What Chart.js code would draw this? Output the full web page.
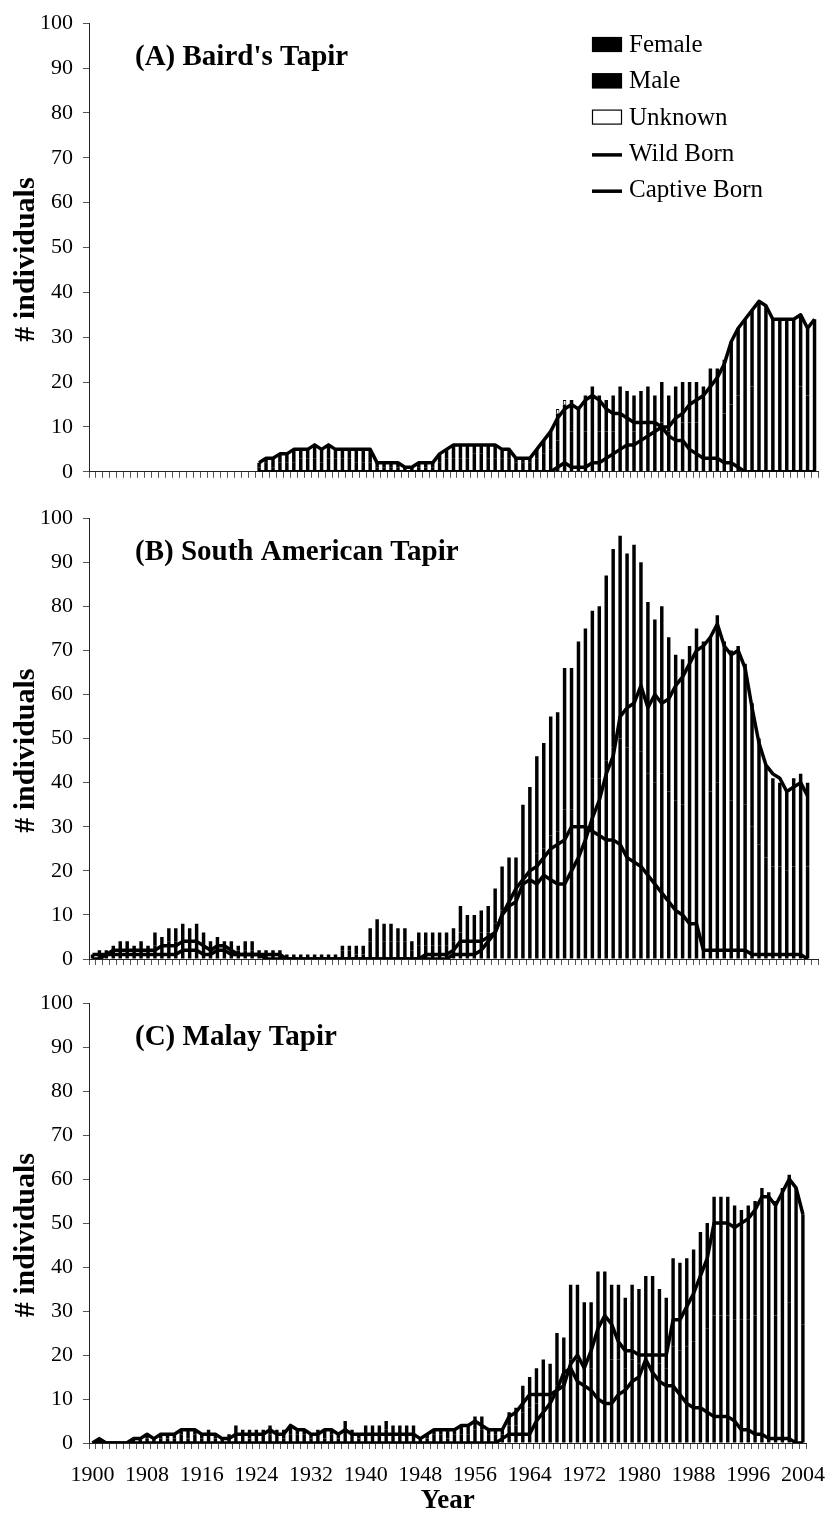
<!DOCTYPE html>
<html>
<head>
<meta charset="utf-8">
<script src="https://cdn.jsdelivr.net/npm/chart.js@4.4.1/dist/chart.umd.min.js"></script>
<style>
  html, body { margin: 0; padding: 0; background: #fff; }
  #wrap { position: relative; width: 838px; height: 1516px; background: #fff; }
  canvas { position: absolute; left: 0; }
</style>
</head>
<body>
<div id="wrap">
  <canvas id="chartA" width="838" height="495" style="top:0px"></canvas>
  <canvas id="chartB" width="838" height="490" style="top:495px"></canvas>
  <canvas id="chartC" width="838" height="536" style="top:980px"></canvas>
</div>
<script>
"use strict";

// categories: one per year
const years = [
  '1900','1901','1902','1903','1904','1905','1906','1907','1908','1909',
  '1910','1911','1912','1913','1914','1915','1916','1917','1918','1919',
  '1920','1921','1922','1923','1924','1925','1926','1927','1928','1929',
  '1930','1931','1932','1933','1934','1935','1936','1937','1938','1939',
  '1940','1941','1942','1943','1944','1945','1946','1947','1948','1949',
  '1950','1951','1952','1953','1954','1955','1956','1957','1958','1959',
  '1960','1961','1962','1963','1964','1965','1966','1967','1968','1969',
  '1970','1971','1972','1973','1974','1975','1976','1977','1978','1979',
  '1980','1981','1982','1983','1984','1985','1986','1987','1988','1989',
  '1990','1991','1992','1993','1994','1995','1996','1997','1998','1999',
  '2000','2001','2002','2003','2004'
];
const xTickLabels = ['1900','1908','1916','1924','1932','1940','1948','1956','1964','1972','1980','1988','1996','2004'];
const legendLabels = ['Female', 'Male', 'Unknown', 'Wild Born', 'Captive Born'];
const panelTitles = ["(A) Baird's Tapir", '(B) South American Tapir', '(C) Malay Tapir'];

const N = null;

// (A) Baird's Tapir
const femaleA = [
  N,N,N,N,N,N,N,N,N,N,
  N,N,N,N,N,N,N,N,N,N,
  N,N,N,N,1,2,1,2,2,2,
  3,3,3,2,3,3,3,3,2,2,
  2,1,1,1,1,1,1,1,1,1,
  2,3,3,3,3,4,4,3,3,3,
  3,2,2,2,3,4,5,7,8,9,
  8,9,10,9,9,9,10,10,9,10,
  10,9,11,9,10,11,11,11,10,12,
  12,13,15,17,18,19,20,20,18,18,
  18,18,19,17,18
];
const maleA = [
  N,N,N,N,N,N,N,N,N,N,
  N,N,N,N,N,N,N,N,N,N,
  N,N,N,N,1,1,2,2,2,3,
  2,2,3,3,3,2,2,2,3,3,
  3,1,1,1,1,0,0,1,1,1,
  2,2,3,3,3,2,2,3,3,2,
  2,1,1,1,2,3,4,6,7,7,
  6,8,9,8,7,8,9,8,8,8,
  9,8,9,8,9,9,9,9,9,11,
  11,12,14,15,16,17,18,17,16,16,
  16,16,16,15,16
];
const unknownA = [
  N,N,N,N,N,N,N,N,N,N,
  N,N,N,N,N,N,N,N,N,N,
  N,N,N,N,N,N,N,N,N,N,
  N,N,N,N,N,N,N,N,N,N,
  N,N,N,N,N,N,N,N,N,N,
  N,N,N,N,N,N,N,N,N,N,
  N,N,N,N,N,N,N,1,1,N,
  N,N,N,N,N,N,N,N,N,N,
  N,N,N,N,N,N,N,N,N,N,
  N,N,N,N,N,N,N,N,N,N,
  N,N,N,N,N
];
const wildA = [
  N,N,N,N,N,N,N,N,N,N,
  N,N,N,N,N,N,N,N,N,N,
  N,N,N,N,2,3,3,4,4,5,
  5,5,6,5,6,5,5,5,5,5,
  5,2,2,2,2,1,1,2,2,2,
  4,5,6,6,6,6,6,6,6,5,
  5,3,3,3,5,7,9,12,14,15,
  14,16,17,16,14,13,13,12,11,11,
  11,11,10,8,7,7,5,4,3,3,
  3,2,2,1,0,0,0,0,0,0,
  0,0,0,0,0
];
const captiveA = [
  N,N,N,N,N,N,N,N,N,N,
  N,N,N,N,N,N,N,N,N,N,
  N,N,N,N,0,0,0,0,0,0,
  0,0,0,0,0,0,0,0,0,0,
  0,0,0,0,0,0,0,0,0,0,
  0,0,0,0,0,0,0,0,0,0,
  0,0,0,0,0,0,0,1,2,1,
  1,1,2,2,3,4,5,6,6,7,
  8,9,10,10,12,13,15,16,17,19,
  21,24,29,32,34,36,38,37,34,34,
  34,34,35,32,34
];

// (B) South American Tapir
const femaleB = [
  1,1,1,2,2,2,1,2,2,3,
  3,4,4,4,4,4,3,2,3,2,
  2,2,2,2,1,1,1,1,1,1,
  0,0,1,1,1,1,2,2,1,1,
  4,5,4,4,4,4,2,3,3,3,
  3,3,4,6,5,5,6,6,8,11,
  12,12,18,20,24,25,28,29,34,34,
  37,39,41,41,45,48,50,48,49,47,
  42,40,42,38,36,35,37,39,37,38,
  40,37,36,37,35,30,26,23,21,21,
  20,21,22,21,N
];
const maleB = [
  0,1,1,1,2,2,2,2,1,3,
  2,3,3,4,3,4,3,2,2,2,
  2,1,2,2,1,1,1,1,0,0,
  1,1,0,0,0,0,1,1,2,2,
  3,4,4,4,3,3,2,3,3,3,
  3,3,3,6,5,5,5,6,8,10,
  11,11,17,19,22,24,27,27,32,32,
  35,36,38,39,42,45,46,44,45,43,
  39,37,38,35,33,33,34,36,35,35,
  38,35,34,34,32,28,24,21,20,19,
  18,20,20,19,N
];
const unknownB = [
  N,N,N,N,N,N,N,N,N,N,
  N,N,N,N,N,N,N,N,N,N,
  N,N,N,N,N,N,N,N,N,N,
  N,N,N,N,N,N,N,N,N,N,
  N,N,N,N,N,N,N,N,N,N,
  N,N,N,N,N,N,N,N,N,N,
  N,N,N,N,N,N,N,N,N,N,
  N,N,N,N,N,N,N,N,N,N,
  N,N,N,N,N,N,N,N,N,N,
  N,N,N,N,N,N,N,N,N,N,
  N,N,N,N,N
];
const wildB = [
  1,1,1,2,2,2,2,2,2,2,
  3,3,3,4,4,4,3,2,3,3,
  2,1,1,1,1,1,1,1,0,0,
  0,0,0,0,0,0,0,0,0,0,
  0,0,0,0,0,0,0,0,1,1,
  1,1,2,4,4,4,4,5,6,10,
  13,16,18,20,21,23,25,26,27,30,
  30,30,29,28,27,27,26,23,22,21,
  19,17,15,13,11,10,8,8,2,2,
  2,2,2,2,2,1,1,1,1,1,
  1,1,1,0,N
];
const captiveB = [
  0,0,1,1,1,1,1,1,1,1,
  1,1,1,2,2,2,1,1,2,2,
  1,1,1,1,1,0,0,0,0,0,
  0,0,0,0,0,0,0,0,0,0,
  0,0,0,0,0,0,0,0,0,0,
  0,0,1,1,1,1,2,4,6,10,
  12,13,17,18,17,19,18,17,17,20,
  23,27,32,36,42,46,55,57,58,62,
  57,60,58,59,62,64,67,70,71,73,
  76,71,69,70,66,57,49,44,42,41,
  38,39,40,37,N
];

// (C) Malay Tapir
const femaleC = [
  0,1,0,0,0,0,1,0,1,1,
  1,1,1,2,1,2,1,2,1,1,
  1,2,2,1,2,2,2,2,1,2,
  2,2,1,2,1,2,1,3,2,1,
  2,2,2,3,2,2,2,2,1,1,
  2,2,1,2,2,2,3,3,2,2,
  2,4,4,7,8,9,10,10,13,13,
  19,19,17,17,20,20,19,19,17,19,
  18,20,20,18,17,22,21,22,23,25,
  26,29,29,29,28,28,28,29,30,30,
  29,30,32,30,27
];
const maleC = [
  0,0,0,0,0,0,0,1,1,0,
  1,1,1,1,2,1,1,1,1,0,
  1,2,1,2,1,1,2,1,2,2,
  1,1,1,1,2,1,1,2,1,1,
  2,2,2,2,2,2,2,2,0,1,
  1,1,2,1,2,2,3,3,1,1,
  1,3,4,6,7,8,9,8,12,11,
  17,17,15,15,19,19,17,17,16,17,
  17,18,18,17,16,20,20,20,21,23,
  24,27,27,27,26,25,26,26,28,27,
  26,28,29,28,25
];
const unknownC = [
  N,N,N,N,N,N,N,N,N,N,
  N,N,N,N,N,N,N,N,N,N,
  N,N,N,N,N,N,N,N,N,N,
  N,N,N,N,N,N,N,N,N,N,
  N,N,N,N,N,N,N,N,N,N,
  N,N,N,N,N,N,N,N,N,N,
  N,N,N,N,N,N,N,N,N,N,
  N,N,N,N,N,N,N,N,N,N,
  N,N,N,N,N,N,N,N,N,N,
  N,N,N,N,N,N,N,N,N,N,
  N,N,N,N,N
];
const wildC = [
  0,1,0,0,0,0,1,1,2,1,
  2,2,2,3,3,3,2,2,2,1,
  1,2,2,2,2,2,3,2,2,4,
  3,3,2,2,3,3,2,3,2,2,
  2,2,2,2,2,2,2,2,1,2,
  3,3,3,3,4,4,5,4,3,3,
  3,6,7,9,11,11,11,11,12,16,
  17,14,13,12,10,9,9,11,12,14,
  15,19,16,14,13,13,11,9,8,8,
  7,6,6,6,5,3,3,2,2,1,
  1,1,1,0,0
];
const captiveC = [
  0,0,0,0,0,0,0,0,0,0,
  0,0,0,0,0,0,0,0,0,0,
  0,0,0,0,0,0,0,0,0,0,
  0,0,0,0,0,0,0,0,0,0,
  0,0,0,0,0,0,0,0,0,0,
  0,0,0,0,0,0,0,0,0,0,
  1,2,2,2,2,5,7,9,12,13,
  18,20,17,21,26,29,27,23,21,21,
  20,20,20,20,20,28,28,31,34,38,
  42,50,50,50,49,50,51,53,56,56,
  54,57,60,58,52
];

Chart.defaults.font.family = "'Liberation Serif', 'Times New Roman', serif";
Chart.defaults.color = '#000';

// titles, axis labels and the legend written onto the canvas
const panelText = {
  id: 'panelText',
  afterDraw(chart, args, opts) {
    const ctx = chart.ctx;
    const a = chart.chartArea;
    ctx.save();
    ctx.fillStyle = '#000';
    ctx.font = "bold 29px 'Liberation Serif', serif";
    ctx.textAlign = 'left';
    ctx.textBaseline = 'alphabetic';
    ctx.fillText(opts.title, a.left + 46, a.top + 42);

    ctx.save();
    ctx.translate(26, (a.top + a.bottom) / 2 + 12);
    ctx.rotate(-Math.PI / 2);
    ctx.textAlign = 'center';
    ctx.textBaseline = 'middle';
    ctx.font = "bold 30px 'Liberation Serif', serif";
    ctx.fillText('# individuals', 0, 0);
    ctx.restore();

    if (opts.xTitle) {
      ctx.textAlign = 'center';
      ctx.font = "bold 27px 'Liberation Serif', serif";
      ctx.fillText('Year', (a.left + a.right) / 2, 528);
    }

    if (opts.legend) {
      const ds = chart.data.datasets;
      ctx.font = "25px 'Liberation Serif', serif";
      ctx.textAlign = 'left';
      for (let i = 0; i < ds.length; i++) {
        const y = 44 + i * 36.3;
        if (ds[i].type === 'line') {
          ctx.strokeStyle = '#000';
          ctx.lineWidth = 3.5;
          ctx.beginPath();
          ctx.moveTo(592, y + 2);
          ctx.lineTo(622, y + 2);
          ctx.stroke();
        } else {
          ctx.fillStyle = ds[i].backgroundColor;
          ctx.fillRect(592, y - 7, 30, 15);
          ctx.strokeStyle = '#000';
          ctx.lineWidth = 1.2;
          ctx.strokeRect(592.5, y - 6.5, 29, 14);
        }
        ctx.fillStyle = '#000';
        ctx.fillText(ds[i].label, 629, y + 8);
      }
    }
    ctx.restore();
  }
};

function makePanel(id, female, male, unknown, wild, captive, title, xHeight, showX, legend) {
  const barBase = { type: 'bar', stack: 'sex', order: 1, barPercentage: 0.5, categoryPercentage: 1.0 };
  const lineBase = { type: 'line', order: 0, borderColor: '#000', borderWidth: 3.5,
    pointRadius: 0, tension: 0, fill: false, spanGaps: false, borderJoinStyle: 'round' };
  return new Chart(document.getElementById(id), {
    data: {
      labels: years,
      datasets: [
        Object.assign({}, barBase, { label: legendLabels[0], data: female, backgroundColor: '#000' }),
        Object.assign({}, barBase, { label: legendLabels[1], data: male, backgroundColor: '#000' }),
        Object.assign({}, barBase, { label: legendLabels[2], data: unknown, backgroundColor: '#fff',
          borderColor: '#000', borderWidth: 1 }),
        Object.assign({}, lineBase, { label: legendLabels[3], data: wild, stack: 'wild' }),
        Object.assign({}, lineBase, { label: legendLabels[4], data: captive, stack: 'captive' })
      ]
    },
    options: {
      responsive: false,
      animation: false,
      devicePixelRatio: 1,
      layout: { padding: { top: 20, right: 20, left: 0, bottom: 0 } },
      plugins: {
        legend: { display: false },
        tooltip: { enabled: false },
        panelText: { title: title, legend: legend, xTitle: showX }
      },
      scales: {
        x: {
          stacked: true,
          offset: true,
          grid: { display: true, drawOnChartArea: false, drawTicks: true, tickLength: 6,
            offset: true, color: '#555', lineWidth: 1 },
          border: { display: true, color: '#222', width: 1 },
          ticks: {
            display: showX, autoSkip: false, maxRotation: 0, minRotation: 0, padding: 13,
            font: { size: 22 },
            callback: function (v) {
              const l = this.getLabelForValue(v);
              return xTickLabels.includes(l) ? l : '';
            }
          },
          afterFit: function (s) { s.height = xHeight; }
        },
        y: {
          stacked: true,
          min: 0,
          max: 100,
          grid: { drawOnChartArea: false, drawTicks: true, tickLength: 6, color: '#555' },
          border: { display: true, color: '#222', width: 1 },
          ticks: { stepSize: 10, padding: 10, font: { size: 22 } },
          afterFit: function (s) { s.width = 89; }
        }
      }
    },
    plugins: [panelText]
  });
}

makePanel('chartA', femaleA, maleA, unknownA, wildA, captiveA, panelTitles[0], 19, false, true);
makePanel('chartB', femaleB, maleB, unknownB, wildB, captiveB, panelTitles[1], 26, false, false);
makePanel('chartC', femaleC, maleC, unknownC, wildC, captiveC, panelTitles[2], 73, true, false);
</script>
</body>
</html>
